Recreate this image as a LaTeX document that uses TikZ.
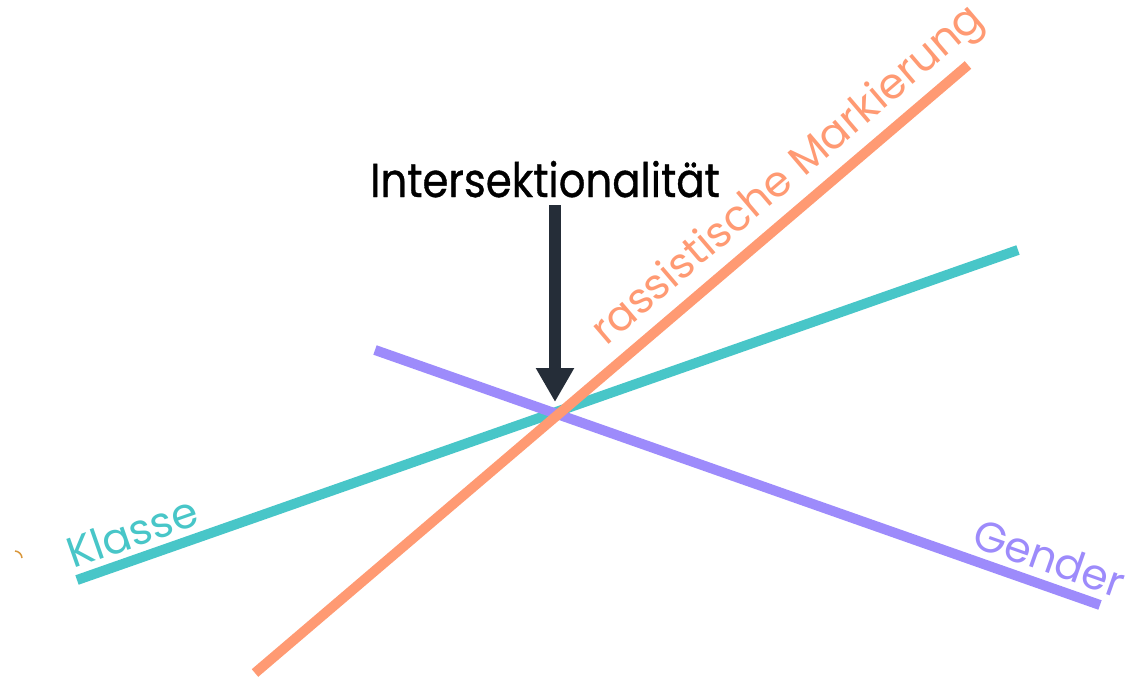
\documentclass[tikz,border=0pt]{standalone}
\usepackage{fontspec}
\setmainfont{Poppins}
\newfontfamily\titlefont[FakeStretch=0.88,FakeBold=0.7]{Poppins}
\usetikzlibrary{arrows.meta}
\definecolor{teal}{HTML}{48C6C8}
\definecolor{lila}{HTML}{9D8BFB}
\definecolor{lachs}{HTML}{FF9A73}
\definecolor{dunkel}{HTML}{252D38}
\definecolor{krumel}{HTML}{D9963A}
\tikzset{
  axis/.style={line width=10pt},
  lbl/.style={inner sep=0pt, anchor=base west, font=\fontsize{42.5}{50}\selectfont},
  arr/.style={draw=dunkel, line width=12pt, -{Triangle[width=36pt,length=34pt]}}
}
\begin{document}
\begin{tikzpicture}[x=1pt,y=-1pt]
\useasboundingbox (0,0) rectangle (1128,680);
\coordinate (kA) at (77,580);
\coordinate (kB) at (1018,250);
\coordinate (gA) at (375,350);
\coordinate (gB) at (1100,605);
\coordinate (rA) at (255,673);
\coordinate (rB) at (968,65);
\coordinate (top) at (555,205);
\coordinate (tip) at (555,402);
\draw[axis, teal] (kA) -- (kB);
\draw[axis, lila] (gA) -- (gB);
\draw[axis, lachs] (rA) -- (rB);
\draw[arr] (top) -- (tip);
\node[lbl, text=teal, rotate=19.3] (klasse) at (73,569) {Klasse};
\node[lbl, text=lila, rotate=-19.4] (gender) at (970,546) {Gender};
\node[lbl, text=lachs, rotate=40.5] (rass) at (606,347) {rassistische Markierung};
\node[inner sep=0pt, anchor=base, font=\titlefont\fontsize{47.5}{56}\selectfont] (inter) at (545,197) {Intersektionalität};
\draw[krumel, line width=1.5pt] (15,551) to[bend left=40] (22,558);
\end{tikzpicture}
\end{document}
